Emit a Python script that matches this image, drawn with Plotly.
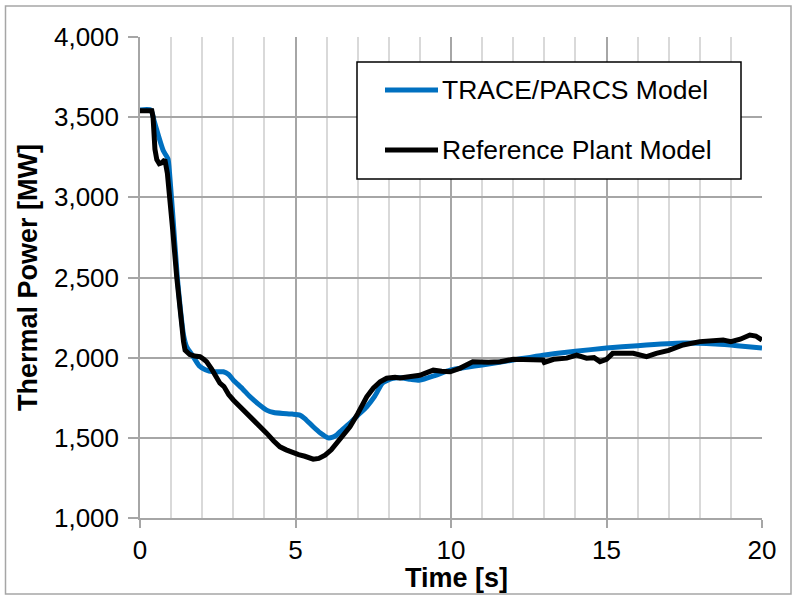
import plotly.graph_objects as go

# Time axis and thermal power for the two models
trace_t = [0, 0.35, 0.45, 0.6, 0.75, 0.9, 0.95, 1.05, 1.2, 1.3, 1.4, 1.5, 1.7, 1.9, 2.1,
           2.36, 2.68, 2.85, 3.0, 3.3, 3.54, 3.8, 4.07, 4.3, 4.6, 4.9, 5.14, 5.3, 5.57,
           5.8, 6.05, 6.2, 6.32, 6.5, 6.75, 7.0, 7.29, 7.55, 7.8, 8.1, 8.36, 8.7, 9.0,
           9.5, 9.97, 10.5, 11.0, 12.0, 12.96, 14.0, 15.0, 16.0, 17.46, 18.5, 19.2, 20.0]
trace_p = [3545, 3545, 3480, 3380, 3290, 3240, 3150, 2900, 2500, 2300, 2140, 2068, 2010,
           1950, 1925, 1912, 1912, 1895, 1860, 1805, 1756, 1712, 1673, 1658, 1652, 1648,
           1642, 1620, 1569, 1530, 1500, 1505, 1517, 1550, 1592, 1640, 1694, 1760, 1842,
           1870, 1875, 1865, 1860, 1890, 1922, 1940, 1954, 1985, 2016, 2040, 2060, 2075,
           2091, 2085, 2075, 2060]

ref_t = [0, 0.38, 0.42, 0.48, 0.54, 0.62, 0.7, 0.8, 0.88, 0.96, 1.05, 1.18, 1.3, 1.4,
         1.45, 1.6, 1.75, 1.93, 2.05, 2.14, 2.3, 2.45, 2.57, 2.7, 2.85, 3.0, 3.25, 3.54,
         3.8, 4.07, 4.3, 4.5, 4.7, 4.93, 5.1, 5.3, 5.57, 5.75, 5.95, 6.15, 6.32, 6.5,
         6.75, 7.0, 7.29, 7.5, 7.72, 7.93, 8.2, 8.36, 8.7, 9.0, 9.2, 9.43, 9.7, 9.97,
         10.3, 10.7, 11.2, 11.58, 12.0, 12.5, 12.96, 13.0, 13.3, 13.72, 14.04, 14.36,
         14.6, 14.79, 15.0, 15.2, 15.5, 15.86, 16.29, 16.6, 17.0, 17.46, 18.0, 18.4,
         18.75, 19.0, 19.3, 19.61, 19.8, 20.0]
ref_p = [3540, 3540, 3500, 3300, 3235, 3210, 3215, 3235, 3150, 3004, 2800, 2505, 2250,
         2100, 2047, 2020, 2010, 2006, 1990, 1975, 1930, 1880, 1841, 1820, 1770, 1736,
         1690, 1631, 1580, 1529, 1480, 1444, 1425, 1403, 1395, 1385, 1367, 1372, 1392,
         1425, 1467, 1510, 1569, 1650, 1756, 1810, 1850, 1872, 1878, 1873, 1880, 1890,
         1905, 1922, 1915, 1912, 1935, 1975, 1972, 1975, 1990, 1985, 1985, 1970, 1990,
         1997, 2016, 1997, 2000, 1975, 1990, 2027, 2030, 2027, 2006, 2027, 2045, 2079,
         2100, 2105, 2110, 2100, 2115, 2141, 2135, 2110]

series_names = ["TRACE/PARCS Model", "Reference Plant Model"]
series_colors = ["#0070C0", "#000000"]

FONT = "Liberation Sans, Arial, sans-serif"
MAJOR = "#A6A6A6"
MINOR = "#D9D9D9"

fig = go.Figure()
fig.add_trace(go.Scatter(x=trace_t, y=trace_p, mode="lines", name=series_names[0],
                         line=dict(color=series_colors[0], width=5, shape="spline", smoothing=0.5)))
fig.add_trace(go.Scatter(x=ref_t, y=ref_p, mode="lines", name=series_names[1],
                         line=dict(color=series_colors[1], width=5)))

W, H = 793, 596
L, R, T, B = 140, 31, 37, 78
pw, ph = W - L - R, H - T - B


def px(xp):
    return (xp - L) / pw


def py(yp):
    return (H - B - yp) / ph


fig.update_layout(
    width=W, height=H,
    margin=dict(l=L, r=R, t=T, b=B),
    paper_bgcolor="white", plot_bgcolor="white",
    showlegend=False,
    font=dict(family=FONT, size=26, color="black"),
    xaxis=dict(
        range=[0, 20], dtick=5, tick0=0, showgrid=True, gridcolor=MAJOR, gridwidth=1.5,
        minor=dict(dtick=1, showgrid=True, gridcolor=MINOR, gridwidth=1.5),
        ticks="outside", ticklen=8, tickcolor=MAJOR, tickwidth=1.5,
        showline=True, linecolor=MAJOR, linewidth=1.5, zeroline=False,
        tickfont=dict(size=26),
        automargin=False,
    ),
    yaxis=dict(
        range=[1000, 4000], dtick=500, tickformat=",", showgrid=True, gridcolor=MAJOR,
        gridwidth=1.5, ticks="outside", ticklen=10, tickcolor=MAJOR, tickwidth=1.5,
        showline=True, linecolor=MAJOR, linewidth=1.5, zeroline=False,
        tickfont=dict(size=26), ticklabelstandoff=4,
        title=dict(text="<b>Thermal Power [MW]</b>", font=dict(size=27), standoff=9),
        automargin=False,
    ),
)

# x-axis title
fig.add_annotation(xref="paper", yref="paper", x=px(456), y=py(578),
                   xanchor="center", yanchor="middle", text="<b>Time [s]</b>",
                   showarrow=False, font=dict(size=27, color="black"))

# outer chart frame
fig.add_shape(type="rect", xref="paper", yref="paper",
              x0=px(5.5), x1=px(791), y0=py(594), y1=py(6),
              line=dict(color=MAJOR, width=1.5), layer="below")

# legend box with sample lines
fig.add_shape(type="rect", xref="paper", yref="paper",
              x0=px(357), x1=px(741), y0=py(179), y1=py(62),
              line=dict(color="black", width=1.5), fillcolor="white", layer="above")
for name, color, yl in zip(series_names, series_colors, [90, 150]):
    fig.add_shape(type="line", xref="paper", yref="paper",
                  x0=px(385), x1=px(438), y0=py(yl), y1=py(yl),
                  line=dict(color=color, width=5), layer="above")
    fig.add_annotation(xref="paper", yref="paper", x=px(440), y=py(yl),
                       xanchor="left", yanchor="middle", text=name, showarrow=False,
                       font=dict(size=26.5, color="black"))

fig.write_html("out.html")
